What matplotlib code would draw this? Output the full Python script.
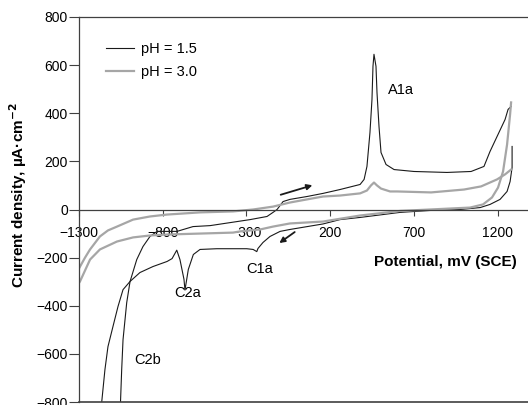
import matplotlib
matplotlib.use("Agg")
import matplotlib.pyplot as plt

plt.rcParams['font.family'] = ['Liberation Sans', 'DejaVu Sans']

# pH 1.5, forward (anodic) scan
ph15_fwd_x = [-1055, -1052, -1045, -1037, -1015, -995, -955, -918, -876, -834, -715, -619, -517,
              -278, -177, -141, -117, -81, -40, 62, 158, 259, 379, 403, 420, 438, 450, 456, 462,
              474, 480, 492, 504, 534, 582, 701, 898, 1042, 1119, 1155, 1203, 1245, 1263, 1281]
ph15_fwd_y = [-840, -798, -665, -541, -387, -299, -208, -154, -112, -91, -91, -71, -67,
              -42, -29, -12, 0, 33, 42, 54, 67, 83, 104, 125, 179, 320, 457, 595, 645,
              595, 486, 345, 237, 187, 166, 158, 154, 158, 179, 241, 312, 374, 416, 428]
# pH 1.5, reverse (cathodic) scan
ph15_rev_x = [1287, 1287, 1275, 1257, 1215, 1155, 1096, 976, 797, 618, 379, 259, 158, -40, -99,
              -159, -201, -231, -238, -260, -298, -380, -477, -577, -617, -647, -667, -673, -697,
              -716, -744, -774, -858, -936, -995, -1037, -1067, -1097, -1127, -1145, -1164, -1170]
ph15_rev_y = [262, 175, 116, 75, 42, 21, 8, 0, -4, -12, -33, -42, -60, -83, -91,
              -112, -137, -162, -175, -166, -163, -163, -163, -166, -187, -249, -335, -290, -208,
              -169, -204, -216, -237, -262, -299, -333, -403, -486, -570, -665, -798, -840]

# pH 3.0, forward scan
ph30_fwd_x = [-1300, -1264, -1234, -1175, -1127, -1073, -977, -876, -774, -577, -380, -260, -141,
              -40, 62, 158, 259, 379, 420, 444, 462, 480, 504, 558, 600, 803, 1000, 1102, 1197,
              1245, 1281]
ph30_fwd_y = [-245, -200, -166, -112, -87, -71, -42, -29, -21, -12, -8, 0, 12,
              29, 42, 54, 58, 67, 79, 100, 112, 100, 87, 75, 75, 71, 83, 96, 125,
              146, 166]
# pH 3.0, reverse scan
ph30_rev_x = [1281, 1275, 1257, 1233, 1203, 1167, 1113, 1036, 916, 797, 618, 379, 158, -40, -141,
              -218, -338, -380, -577, -774, -876, -977, -1073, -1175, -1234, -1294, -1300]
ph30_rev_y = [445, 395, 270, 158, 91, 50, 21, 8, 4, 0, -6, -25, -50, -58, -71,
              -83, -91, -96, -100, -104, -108, -116, -133, -166, -208, -299, -305]

x_ticks = [-1300, -800, -300, 200, 700, 1200]
y_ticks = [-800, -600, -400, -200, 0, 200, 400, 600, 800]

black = '#1a1a1a'
grey = '#a6a6a6'
axcol = '#404040'

fig = plt.figure(figsize=(5.28, 4.05), dpi=100)
ax = fig.add_axes([79 / 528, 3 / 405, 449 / 528, 385 / 405])

l1, = ax.plot(ph15_fwd_x, ph15_fwd_y, color=black, lw=0.8, label='pH = 1.5')
ax.plot(ph15_rev_x, ph15_rev_y, color=black, lw=0.8)
l2, = ax.plot(ph30_fwd_x, ph30_fwd_y, color=grey, lw=1.6, label='pH = 3.0')
ax.plot(ph30_rev_x, ph30_rev_y, color=grey, lw=1.6)

ax.set_xlim(-1300, 1382)
ax.set_ylim(-800, 800)

ax.spines['right'].set_visible(False)
ax.spines['bottom'].set_position(('data', 0))
for s in ['left', 'top', 'bottom']:
    ax.spines[s].set_color(axcol)
    ax.spines[s].set_linewidth(0.9)
# frame line along the bottom edge
ax.plot([0, 1], [0, 0], transform=ax.transAxes, color=axcol, lw=1.2, clip_on=False)

ax.set_xticks(x_ticks)
ax.set_yticks(y_ticks)
ax.tick_params(axis='x', direction='out', length=4, width=0.8, color=axcol, pad=8, labelsize=10)
ax.tick_params(axis='y', direction='out', length=7, width=0.8, color=axcol, pad=1, labelsize=10)

# arrows showing scan direction
ax.annotate('', xy=(110, 104), xytext=(-111, 58),
            arrowprops=dict(arrowstyle='-|>', lw=1.3, color=black, mutation_scale=8))
ax.annotate('', xy=(-117, -146), xytext=(2, -87),
            arrowprops=dict(arrowstyle='-|>', lw=1.3, color=black, mutation_scale=8))

ax.text(624, 495, 'A1a', fontsize=10.5, ha='center', va='center')
ax.text(-219, -249, 'C1a', fontsize=10.5, ha='center', va='center')
ax.text(-649, -345, 'C2a', fontsize=10.5, ha='center', va='center')
ax.text(-888, -624, 'C2b', fontsize=10.5, ha='center', va='center')

fig.text(445 / 528, 1 - 262 / 405, 'Potential, mV (SCE)', fontsize=11, fontweight='bold',
         ha='center', va='center')
fig.text(18 / 528, 1 - 195 / 405, r'Current density, µA·cm$^{\mathbf{-2}}$', fontsize=11,
         fontweight='bold', rotation=90, ha='center', va='center')

ax.legend(handles=[l1, l2], loc='upper left', bbox_to_anchor=(0.06, 0.935), frameon=False,
          fontsize=10.5, handlelength=1.9, handletextpad=0.5, labelspacing=0.6, borderpad=0,
          borderaxespad=0)

fig.savefig('out.png', dpi=100)
